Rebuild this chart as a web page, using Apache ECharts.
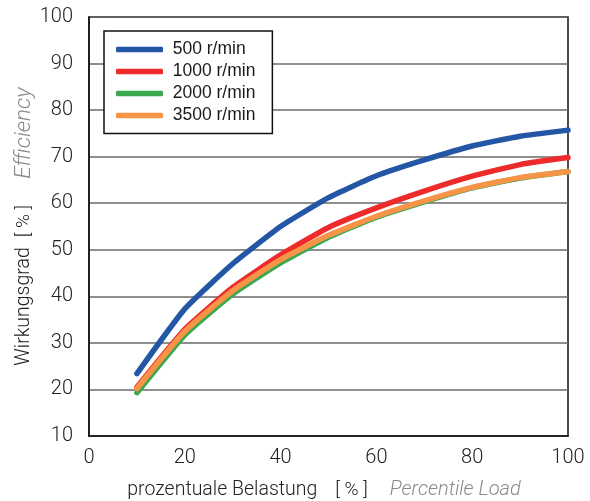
<!DOCTYPE html>
<html>
<head>
<meta charset="utf-8">
<script src="https://cdn.jsdelivr.net/npm/echarts@6/dist/echarts.min.js"></script>
<style>html,body{margin:0;padding:0;background:#fff}#c{width:590px;height:501px}</style>
</head>
<body>
<div id="c"></div>
<script>
var loadX = [10, 20, 30, 40, 50, 60, 70, 80, 90, 100];
var rpm500 = [23.4, 37.3, 47.0, 55.0, 61.2, 65.9, 69.3, 72.3, 74.4, 75.7];
var rpm1000 = [20.5, 32.9, 41.9, 48.9, 54.8, 59.0, 62.6, 65.8, 68.3, 69.8];
var rpm2000 = [19.3, 31.7, 40.5, 47.2, 52.7, 57.0, 60.3, 63.3, 65.4, 66.8];
var rpm3500 = [20.2, 32.5, 41.2, 47.9, 53.1, 57.2, 60.5, 63.4, 65.5, 66.8];
var seriesNames = ['500 r/min', '1000 r/min', '2000 r/min', '3500 r/min'];
var seriesColors = ['#2456a6', '#ee2b2b', '#3ba84f', '#f79447'];
var seriesData = [rpm500, rpm1000, rpm2000, rpm3500];

var FONT = 'Roboto';
var chart = echarts.init(document.getElementById('c'), null, {renderer: 'canvas'});
var series = seriesData.map(function (vals, i) {
  return {
    name: seriesNames[i],
    type: 'line',
    data: loadX.map(function (x, j) { return [x, vals[j]]; }),
    showSymbol: false,
    smooth: 0.15,
    lineStyle: {width: 5.5, color: seriesColors[i], cap: 'round', join: 'round'},
    itemStyle: {color: seriesColors[i]},
    z: 3 + i
  };
});
var nameRich = function (sepPad, italicSize) {
  return {
    a: {fontFamily: FONT, fontWeight: 300, fontSize: 19.5, color: '#222'},
    b: {fontFamily: FONT, fontWeight: 300, fontSize: 19, color: '#222', padding: sepPad},
    c: {fontFamily: FONT, fontWeight: 300, fontStyle: 'italic', fontSize: italicSize, color: '#8a8a8a'}
  };
};
chart.setOption({
  animation: false,
  backgroundColor: '#fff',
  grid: {left: 89, right: 22, top: 17, bottom: 65, show: true, borderColor: '#111', borderWidth: 1.5, containLabel: false, outerBoundsMode: 'none'},
  legend: {
    orient: 'vertical', left: 104, top: 31,
    backgroundColor: '#fff', borderColor: '#111', borderWidth: 1.5, borderRadius: 0,
    padding: [9.5, 17, 9, 12],
    icon: 'roundRect', itemWidth: 47, itemHeight: 5.5, itemGap: 4,
    textStyle: {fontFamily: 'Liberation Sans', fontSize: 17.5, lineHeight: 16, color: '#1a1a1a', padding: [0, 0, 0, 4.7]},
    data: seriesNames
  },
  xAxis: {
    type: 'value', min: 0, max: 100, interval: 20,
    axisLine: {show: true, lineStyle: {color: '#111', width: 1.5}},
    axisTick: {show: false},
    splitLine: {show: false},
    axisLabel: {fontFamily: FONT, fontWeight: 300, fontSize: 20, color: '#222', margin: 12},
    name: '{a|prozentuale Belastung}{b|[ % ]}{c|Percentile Load}',
    nameLocation: 'middle', nameGap: 44, nameMoveOverlap: false,
    nameTextStyle: {padding: [0, 9, 0, 0], rich: nameRich([0, 22, 0, 18], 20)}
  },
  yAxis: {
    type: 'value', min: 10, max: 100, interval: 10,
    axisLine: {show: true, lineStyle: {color: '#111', width: 1.5}},
    axisTick: {show: false},
    splitLine: {show: true, lineStyle: {color: '#6a6a6a', width: 1.5}},
    axisLabel: {fontFamily: FONT, fontWeight: 300, fontSize: 20, color: '#222', margin: 16},
    name: '{a|Wirkungsgrad}{b|[ % ]}{c|Efficiency}',
    nameLocation: 'middle', nameGap: 53, nameRotate: 90, nameMoveOverlap: false,
    nameTextStyle: {rich: nameRich([0, 26, 0, 10], 22.5)}
  },
  series: series
});
</script>
</body>
</html>
